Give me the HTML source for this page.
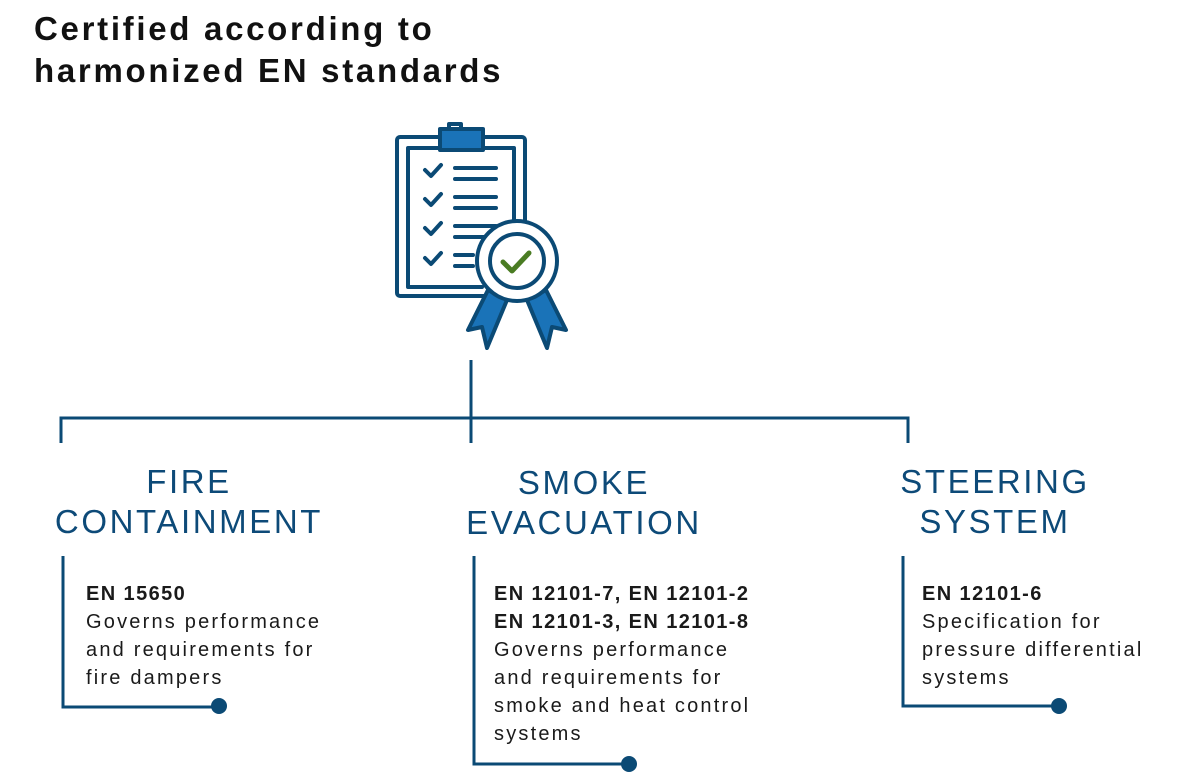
<!DOCTYPE html>
<html><head><style>
body{margin:0;width:1190px;height:782px;background:#fff;position:relative;font-family:"Liberation Sans",sans-serif;overflow:hidden}
.t{position:absolute;left:34px;top:8px;font-size:33px;font-weight:bold;color:#111;line-height:42px;letter-spacing:2.7px}
.h{position:absolute;font-size:33px;color:#0d4a78;text-align:center;line-height:40px;width:360px;letter-spacing:2.6px}
.b{position:absolute;font-size:20px;color:#1a1a1a;line-height:28px;letter-spacing:2.2px;white-space:nowrap}
.b b{font-weight:bold;letter-spacing:1.4px}
</style></head><body>
<div class="t">Certified according to<br>harmonized EN standards</div>
<svg width="1190" height="782" style="position:absolute;left:0;top:0">
<g fill="none" stroke="#0b4a75" stroke-width="4" stroke-linejoin="round" stroke-linecap="round">
<rect x="397" y="137" width="128" height="159" rx="3"/>
<path d="M482 287 H408 V148 H514 V232"/>
<path d="M449 129 v-5 h12 v5"/>
<rect x="440" y="129" width="43" height="21" fill="#1a73b8"/>
<g stroke-width="4">
<path d="M425 170 l6 6 l10 -11 M425 199 l6 6 l10 -11 M425 228 l6 6 l10 -11 M425 258 l6 6 l10 -11"/>
<path d="M455 168 h41 M455 179 h41 M455 197 h41 M455 208 h41 M455 226 h41 M455 237 h30 M455 255 h18 M455 266 h18"/>
</g>
<path d="M488 290 L468 330 L482 327 L487 348 L507 300 Z M546 290 L566 330 L552 327 L547 348 L527 300 Z" fill="#1a73b8"/>
<circle cx="517" cy="261" r="40" fill="#fff"/>
<circle cx="517" cy="261" r="27"/>
<path d="M503 262 l9 9 l17 -18" stroke="#4a7c23" stroke-width="5"/>
</g>
<g fill="none" stroke="#0b4a75" stroke-width="3">
<path d="M471 360 V443 M61 443 V418 H908 V443"/>
<path d="M63 556 V707 H219 M474 556 V764 H629 M903 556 V706 H1059"/>
</g>
<g fill="#0b4a75"><circle cx="219" cy="706" r="8"/><circle cx="629" cy="764" r="8"/><circle cx="1059" cy="706" r="8"/></g>
</svg>
<div class="h" style="left:9px;top:462px">FIRE<br>CONTAINMENT</div>
<div class="h" style="left:404px;top:463px">SMOKE<br>EVACUATION</div>
<div class="h" style="left:815px;top:462px">STEERING<br>SYSTEM</div>
<div class="b" style="left:86px;top:580px"><b>EN 15650</b><br>Governs performance<br>and requirements for<br>fire dampers</div>
<div class="b" style="left:494px;top:580px"><b>EN 12101-7, EN 12101-2<br>EN 12101-3, EN 12101-8</b><br>Governs performance<br>and requirements for<br>smoke and heat control<br>systems</div>
<div class="b" style="left:922px;top:580px"><b>EN 12101-6</b><br>Specification for<br>pressure differential<br>systems</div>
</body></html>
